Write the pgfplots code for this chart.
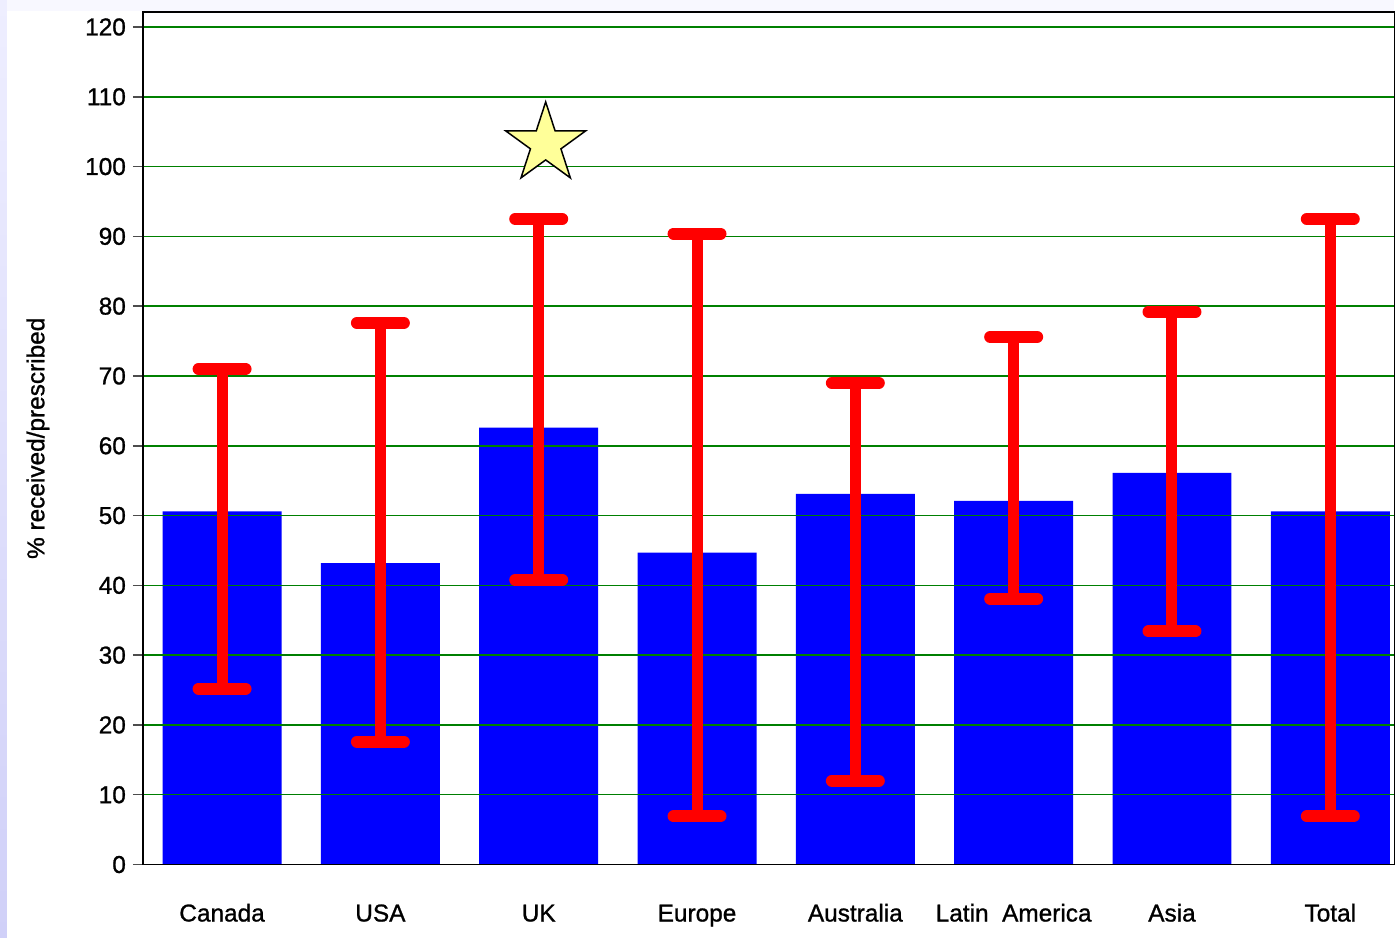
\documentclass[border=0pt]{standalone}
\usepackage{pgfplots}
\pgfplotsset{compat=1.18}
\usepackage{pgfplotstable}
\usepackage{fontspec}
\setmainfont{Liberation Sans}[FakeBold=1]
\definecolor{bgl}{HTML}{F8F8FF}
\definecolor{bgtop}{HTML}{EEEEFF}
\definecolor{bgbot}{HTML}{D0D0F8}
\definecolor{gridg}{HTML}{008000}
\definecolor{starfill}{HTML}{FFFF99}
\pgfdeclareplotmark{fstar}{%
  \pgfpathmoveto{\pgfpointpolar{90}{\pgfplotmarksize}}%
  \pgfpathlineto{\pgfpointpolar{126}{0.382\pgfplotmarksize}}%
  \pgfpathlineto{\pgfpointpolar{162}{\pgfplotmarksize}}%
  \pgfpathlineto{\pgfpointpolar{198}{0.382\pgfplotmarksize}}%
  \pgfpathlineto{\pgfpointpolar{234}{\pgfplotmarksize}}%
  \pgfpathlineto{\pgfpointpolar{270}{0.382\pgfplotmarksize}}%
  \pgfpathlineto{\pgfpointpolar{306}{\pgfplotmarksize}}%
  \pgfpathlineto{\pgfpointpolar{342}{0.382\pgfplotmarksize}}%
  \pgfpathlineto{\pgfpointpolar{18}{\pgfplotmarksize}}%
  \pgfpathlineto{\pgfpointpolar{54}{0.382\pgfplotmarksize}}%
  \pgfpathclose
  \pgfusepathqfillstroke
}
\pgfplotstableread{
x bar top bot
0 50.6 71.0 25.2
1 43.2 77.6 17.6
2 62.6 92.5 40.8
3 44.7 90.4 6.9
4 53.1 69.0 12.0
5 52.1 75.6 38.1
6 56.1 79.2 33.4
7 50.6 92.5 6.9
}\datatable
\pgfplotsset{common/.style={
  at={(71.5pt,36.5pt)}, anchor=south west,
  scale only axis, width=626pt, height=426.5pt,
  xmin=-0.5, xmax=7.404, ymin=0, ymax=122.15}}
\begin{document}
\begin{tikzpicture}
\fill[bgl] (0,0) rectangle (697.5pt,469pt);
\shade[top color=bgtop, bottom color=bgbot] (0,0) rectangle (3.5pt,469pt);
\fill[white] (3.5pt,0) rectangle (697.5pt,463.5pt);
\begin{axis}[
  common,
  axis on top,
  axis line style={black, line width=0.75pt},
  xtick={0,...,7},
  xticklabels={Canada, USA, UK, Europe, Australia, {Latin\ \ America}, Asia, Total},
  xtick style={draw=none},
  ytick={0,10,...,120},
  ytick pos=left,
  tick align=outside,
  major tick length=5pt,
  ytick style={draw=black!70, line width=0.75pt},
  ymajorgrids,
  major grid style={gridg, line width=0.75pt},
  /pgf/number format/assume math mode=true,
  tick label style={font=\fontsize{12.2}{14}\selectfont},
  xticklabel style={anchor=base, yshift=-23.5pt},
  yticklabel style={xshift=0pt},
  ylabel={\%\ received/prescribed},
  ylabel style={font=\fontsize{12.2}{14}\selectfont, at={(axis description cs:0,0.5)}, anchor=center, yshift=52.5pt},
]
\addplot[ybar, bar width=59.5pt, fill=blue, draw=none] table[x=x, y=bar] {\datatable};
\end{axis}
\begin{axis}[common, hide axis, clip=false]
\addplot[draw=none, mark=none,
  error bars/.cd, y dir=both, y explicit,
  error bar style={draw=red, line width=5.5pt},
  error mark=|,
  error mark options={draw=red, line width=6pt, line cap=round, mark size=11.75pt}]
  table[x=x, y=bar, y error plus expr=\thisrow{top}-\thisrow{bar}, y error minus expr=\thisrow{bar}-\thisrow{bot}] {\datatable};
\addplot[only marks, mark=fstar, mark size=21pt, mark options={fill=starfill, draw=black, line width=0.75pt, line join=miter}] coordinates {(2.044,103.25)};
\end{axis}
\end{tikzpicture}
\end{document}
